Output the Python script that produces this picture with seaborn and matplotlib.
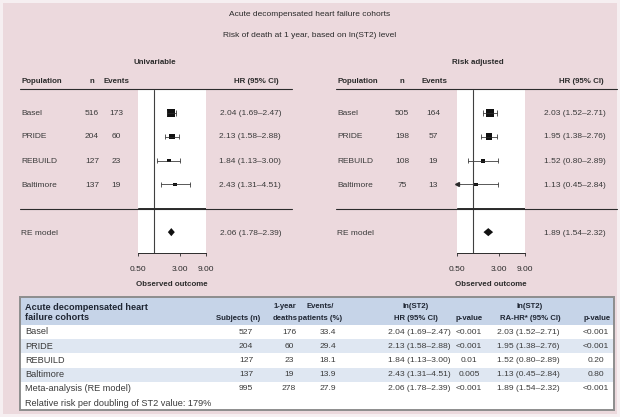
import numpy as np
import pandas as pd
import matplotlib
matplotlib.use("Agg")
import matplotlib.pyplot as plt
from matplotlib.patches import Rectangle
import seaborn as sns

# ---- study-level results -------------------------------------------------
cohorts = ["Basel", "PRIDE", "REBUILD", "Baltimore"]

uni_n = [516, 204, 127, 137]
uni_events = [173, 60, 23, 19]
uni_hr = [2.04, 2.13, 1.84, 2.43]
uni_lo = [1.69, 1.58, 1.13, 1.31]
uni_hi = [2.47, 2.88, 3.00, 4.51]
uni_pooled = [2.06, 1.78, 2.39]

adj_n = [505, 198, 108, 75]
adj_events = [164, 57, 19, 13]
adj_hr = [2.03, 1.95, 1.52, 1.13]
adj_lo = [1.52, 1.38, 0.80, 0.45]
adj_hi = [2.71, 2.76, 2.89, 2.84]
adj_pooled = [1.89, 1.54, 2.32]

axis_ticks = [0.5, 3.0, 9.0]
axis_ticklabels = ["0.50", "3.00", "9.00"]

# ---- summary table -------------------------------------------------------
table_names = ["Basel", "PRIDE", "REBUILD", "Baltimore", "Meta-analysis (RE model)"]
tab_subjects = [527, 204, 127, 137, 995]
tab_deaths = [176, 60, 23, 19, 278]
tab_pct = [33.4, 29.4, 18.1, 13.9, 27.9]
tab_p = ["<0.001", "<0.001", "0.01", "0.005", "<0.001"]
tab_ra_p = ["<0.001", "<0.001", "0.20", "0.80", "<0.001"]
footnote = "Relative risk per doubling of ST2 value: 179%"

title_1 = "Acute decompensated heart failure cohorts"
title_2 = "Risk of death at 1 year, based on ln(ST2) level"

# ---- style ---------------------------------------------------------------
sns.set_theme(style="white")
plt.rcParams["font.family"] = ["Liberation Sans", "DejaVu Sans"]
W, H = 620, 417
PINK = "#ecd9dd"
INK = "#2b2b2b"
TXT = "#3a3a3a"
FS = 6.0      # regular text
BFS = 5.7     # bold headings

fig = plt.figure(figsize=(W / 100, H / 100), dpi=100)
fig.patch.set_facecolor("#f6eff1")

bg = fig.add_axes([0, 0, 1, 1], zorder=-5)
bg.set_xlim(0, W); bg.set_ylim(H, 0); bg.axis("off")
bg.add_patch(Rectangle((3, 3), W - 6, H - 6, facecolor=PINK, edgecolor="none"))

top = fig.add_axes([0, 0, 1, 1], zorder=10)
top.set_xlim(0, W); top.set_ylim(H, 0); top.axis("off")
top.patch.set_alpha(0)


def px_axes(x0, x1, y0, y1):
    return fig.add_axes([x0 / W, 1 - y1 / H, (x1 - x0) / W, (y1 - y0) / H])


def fmt_ci(h, l, u):
    return f"{h:.2f} ({l:.2f}\u2013{u:.2f})"


def forest(ax, hr, lo, hi, pooled):
    df = pd.DataFrame({"hr": hr, "lo": lo, "hi": hi, "row": np.arange(len(hr))})
    df["w"] = 1.0 / (np.log(df["hi"] / df["lo"]) / 3.92) ** 2
    xmin, xmax = axis_ticks[0], axis_ticks[-1]
    cap = 0.11
    for r in df.itertuples():
        left = max(r.lo, xmin)
        ax.hlines(r.row, left, r.hi, color=INK, lw=0.55)
        ax.vlines(r.hi, r.row - cap, r.row + cap, color=INK, lw=0.55)
        if r.lo < xmin:
            ax.plot([xmin], [r.row], marker="<", ms=2.8, color=INK,
                    clip_on=False)
        else:
            ax.vlines(r.lo, r.row - cap, r.row + cap, color=INK, lw=0.55)
    sns.scatterplot(data=df, x="hr", y="row", size="w", sizes=(6, 30),
                    marker="s", color="#111111", linewidth=0, legend=False,
                    ax=ax)
    est, plo, phi = pooled
    yp = len(hr) + 1
    ax.fill([plo, est, phi, est], [yp, yp - 0.17, yp, yp + 0.17],
            color="#111111", lw=0)
    ax.axvline(1.0, color="#404040", lw=0.8)
    ax.axhline(len(hr), color=INK, lw=0.7)
    ax.set_xscale("log")
    ax.set_xlim(xmin, xmax)
    ax.set_ylim(5.875, -0.96)
    ax.set_facecolor("white")
    ax.set_yticks([])
    ax.xaxis.set_minor_locator(matplotlib.ticker.NullLocator())
    ax.set_xticks(axis_ticks)
    ax.set_xticklabels(axis_ticklabels)
    ax.tick_params(axis="x", direction="out", length=2.5, width=0.6,
                   pad=7, labelsize=FS, colors=INK, bottom=True)
    ax.set_xlabel(""); ax.set_ylabel("")
    for s in ["top", "left", "right"]:
        ax.spines[s].set_visible(False)
    ax.spines["bottom"].set_color(INK)
    ax.spines["bottom"].set_linewidth(0.7)


row_y = [113, 137, 161, 185]
pooled_y = 233


def panel(x_ax0, x_ax1, x_left, x_right, x_n, x_ev, heading, heading_x,
          n, ev, hr, lo, hi, pooled):
    ax = px_axes(x_ax0, x_ax1, 90, 253)
    forest(ax, hr, lo, hi, pooled)
    top.text(heading_x, 62, heading, ha="center", va="center",
             fontsize=BFS, fontweight="bold", color=INK)
    top.text(x_left, 81, "Population", ha="left", va="center",
             fontsize=BFS, fontweight="bold", color=INK)
    top.text(x_n, 81, "n", ha="center", va="center",
             fontsize=BFS, fontweight="bold", color=INK)
    top.text(x_ev - 12, 81, "Events", ha="left", va="center",
             fontsize=BFS, fontweight="bold", color=INK)
    top.text(x_right - 2, 81, "HR (95% CI)", ha="right", va="center",
             fontsize=BFS, fontweight="bold", color=INK)
    top.plot([x_left - 1, x_right + 11], [88.5, 88.5], color=INK, lw=0.8)
    top.plot([x_left - 1, x_right + 11], [208.5, 208.5], color=INK, lw=0.8)
    for name, nn, ee, h, l, u, y in zip(cohorts, n, ev, hr, lo, hi, row_y):
        top.text(x_left, y, name, ha="left", va="center", fontsize=FS, color=TXT)
        top.text(x_n, y, str(nn), ha="center", va="center", fontsize=FS, color=TXT)
        top.text(x_ev, y, str(ee), ha="center", va="center", fontsize=FS, color=TXT)
        top.text(x_right, y, fmt_ci(h, l, u), ha="right", va="center",
                 fontsize=FS, color=TXT)
    top.text(x_left, pooled_y, "RE model", ha="left", va="center",
             fontsize=FS, color=TXT)
    top.text(x_right, pooled_y, fmt_ci(*pooled), ha="right", va="center",
             fontsize=FS, color=TXT)
    top.text((x_ax0 + x_ax1) / 2, 285, "Observed outcome", ha="center",
             va="center", fontsize=BFS, fontweight="bold", color=INK)


top.text(310, 14, title_1, ha="center", va="center", fontsize=FS, color=INK)
top.text(310, 35, title_2, ha="center", va="center", fontsize=FS, color=INK)

panel(138, 206, 21, 281, 92, 116, "Univariable", 155,
      uni_n, uni_events, uni_hr, uni_lo, uni_hi, uni_pooled)
panel(457, 525, 337, 606, 402, 433, "Risk adjusted", 478,
      adj_n, adj_events, adj_hr, adj_lo, adj_hi, adj_pooled)

# ---- table ---------------------------------------------------------------
tx0, tx1, ty0, ty1 = 20, 614, 297, 410
pitch = 14.2
body_y = [332 + i * pitch for i in range(len(table_names))]
foot_y = body_y[-1] + pitch

top.add_patch(Rectangle((tx0, ty0), tx1 - tx0, ty1 - ty0, facecolor="white",
                        edgecolor="none"))
top.add_patch(Rectangle((tx0, ty0), tx1 - tx0, 28, facecolor="#c6d4e8",
                        edgecolor="none"))
for i, y in enumerate(body_y):
    if i % 2 == 1:
        top.add_patch(Rectangle((tx0, y - pitch / 2), tx1 - tx0, pitch,
                                facecolor="#dfe7f2", edgecolor="none"))
top.add_patch(Rectangle((tx0, ty0), tx1 - tx0, ty1 - ty0, facecolor="none",
                        edgecolor="#8d8d8d", lw=1.4))

HFS = 5.6
NFS = 6.6   # first column
CFS = 6.1   # numeric cells
hdr = dict(fontsize=HFS, fontweight="bold", color="#1f2633", va="center")
top.text(25, 307, "Acute decompensated heart", ha="left",
         **{**hdr, "fontsize": NFS})
top.text(25, 318, "failure cohorts", ha="left", **{**hdr, "fontsize": NFS})
top.text(238, 318, "Subjects (n)", ha="center", **hdr)
top.text(285, 307, "1-year", ha="center", **hdr)
top.text(285, 318, "deaths", ha="center", **hdr)
top.text(320, 307, "Events/", ha="center", **hdr)
top.text(320, 318, "patients (%)", ha="center", **hdr)
top.text(416, 307, "ln(ST2)", ha="center", **hdr)
top.text(416, 318, "HR (95% CI)", ha="center", **hdr)
top.text(469, 318, "p-value", ha="center", **hdr)
top.text(530, 307, "ln(ST2)", ha="center", **hdr)
top.text(530, 318, "RA-HR* (95% CI)", ha="center", **hdr)
top.text(597, 318, "p-value", ha="center", **hdr)

tab_hr = uni_hr + [uni_pooled[0]]
tab_lo = uni_lo + [uni_pooled[1]]
tab_hi = uni_hi + [uni_pooled[2]]
tab_ra = adj_hr + [adj_pooled[0]]
tab_ra_lo = adj_lo + [adj_pooled[1]]
tab_ra_hi = adj_hi + [adj_pooled[2]]

cell = dict(fontsize=CFS, color=TXT, va="center")
for i, y in enumerate(body_y):
    top.text(25, y, table_names[i], ha="left", **{**cell, "fontsize": NFS})
    top.text(246, y, str(tab_subjects[i]), ha="center", **cell)
    top.text(289, y, str(tab_deaths[i]), ha="center", **cell)
    top.text(328, y, f"{tab_pct[i]:.1f}", ha="center", **cell)
    top.text(419, y, fmt_ci(tab_hr[i], tab_lo[i], tab_hi[i]), ha="center", **cell)
    top.text(469, y, tab_p[i], ha="center", **cell)
    top.text(528, y, fmt_ci(tab_ra[i], tab_ra_lo[i], tab_ra_hi[i]), ha="center", **cell)
    top.text(596, y, tab_ra_p[i], ha="center", **cell)
top.text(25, foot_y, footnote, ha="left", **{**cell, "fontsize": NFS})

fig.savefig("out.png", dpi=100, facecolor=fig.get_facecolor())
